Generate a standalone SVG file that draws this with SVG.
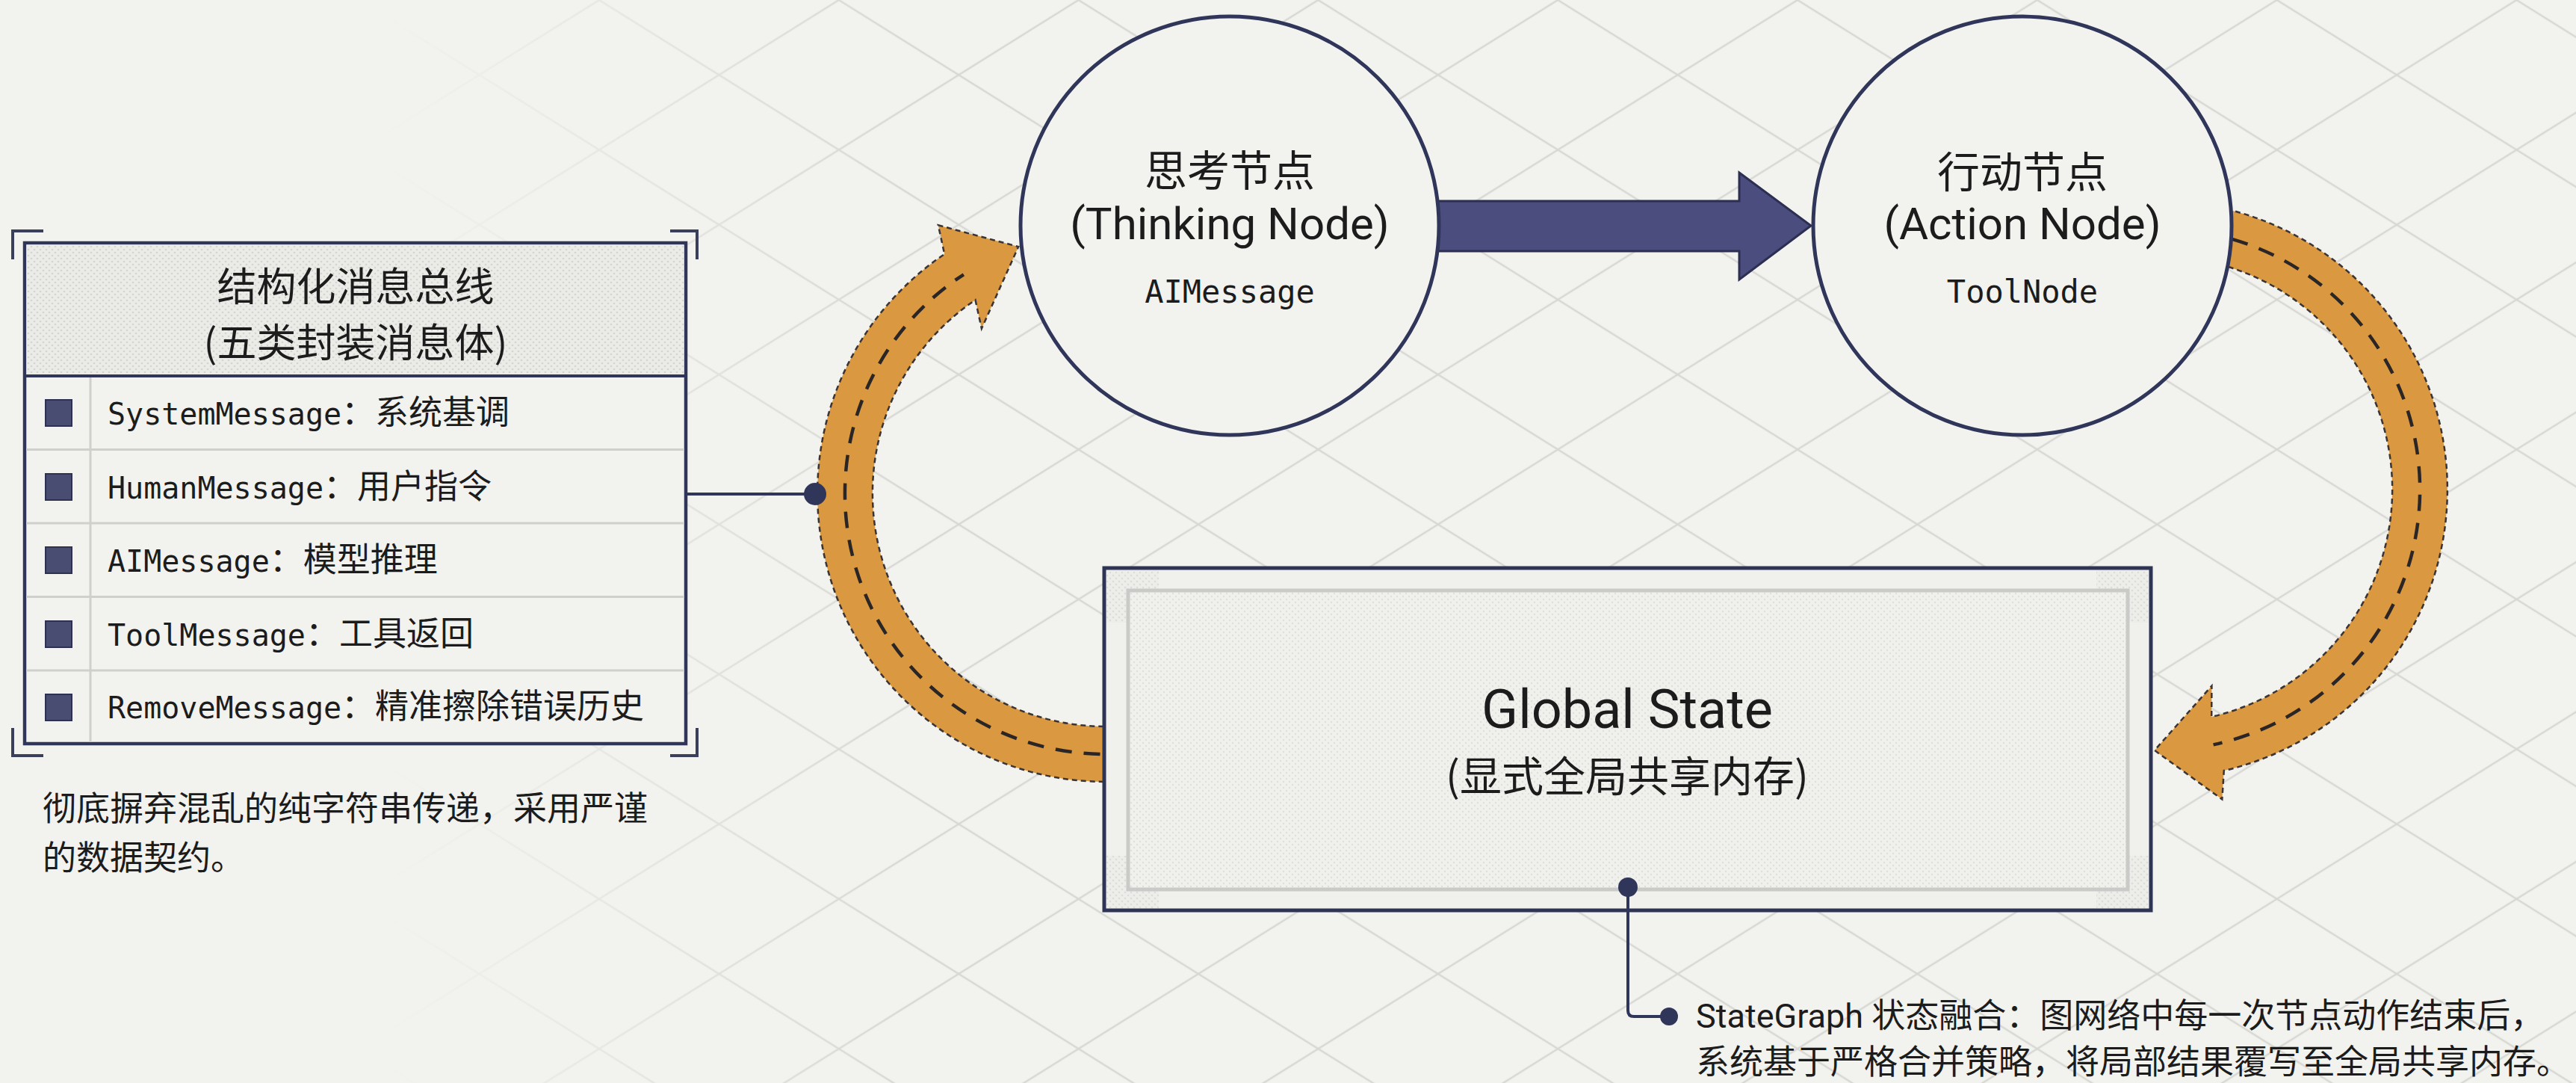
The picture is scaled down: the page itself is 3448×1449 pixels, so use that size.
<svg xmlns="http://www.w3.org/2000/svg" width="3448" height="1449" viewBox="0 0 3448 1449">
<defs>
<style>
.cjk{font-family:"Noto Sans CJK SC",sans-serif;fill:#1c1c1c}
.sans{font-family:Roboto,"Noto Sans CJK SC",sans-serif;fill:#1c1c1c}
.mono{font-family:"DejaVu Sans Mono","Noto Sans CJK SC",monospace;fill:#1c1c1c}
.node{fill:#f2f2ef;stroke:#30355a;stroke-width:5}
.orange{fill:#da9840;stroke:#3a3436;stroke-width:2.5;stroke-dasharray:7 5}
.dash{fill:none;stroke:#2b2626;stroke-width:4.5;stroke-dasharray:22 16}
.rowline{stroke:#cfcfcc;stroke-width:3}
.leader{fill:none;stroke:#30355a;stroke-width:4}
.dot{fill:#30355a}
.bullet{fill:#4a4d72;stroke:#2e3150;stroke-width:2}
.bracket{fill:none;stroke:#3a3f5c;stroke-width:4}
</style>
<pattern id="gridA" width="170" height="170" patternUnits="userSpaceOnUse" patternTransform="rotate(32)"><line x1="0" y1="85" x2="170" y2="85" stroke="#d3d3cf" stroke-width="2.5"/></pattern>
<pattern id="gridB" width="170" height="170" patternUnits="userSpaceOnUse" patternTransform="rotate(-32)"><line x1="0" y1="85" x2="170" y2="85" stroke="#d3d3cf" stroke-width="2.5"/></pattern>
<pattern id="dots" width="8" height="8" patternUnits="userSpaceOnUse"><rect width="8" height="8" fill="#ebebe8"/><circle cx="2" cy="2" r="1.3" fill="#d4d4d1"/><circle cx="6" cy="6" r="1.3" fill="#d4d4d1"/></pattern>
<pattern id="dots2" width="8" height="8" patternUnits="userSpaceOnUse"><rect width="8" height="8" fill="#f0f0ed"/><circle cx="2" cy="2" r="1.2" fill="#dfdfdc"/><circle cx="6" cy="6" r="1.2" fill="#dfdfdc"/></pattern>
<linearGradient id="fade" x1="0" y1="0" x2="1" y2="0"><stop offset="0.15" stop-color="#fff" stop-opacity="0"/><stop offset="0.35" stop-color="#fff" stop-opacity="1"/><stop offset="1" stop-color="#fff" stop-opacity="1"/></linearGradient>
<mask id="gridMask"><rect width="3448" height="1449" fill="url(#fade)"/></mask>
</defs>

<rect width="3448" height="1449" fill="#f2f2ee"/>
<g id="background-grid" mask="url(#gridMask)" opacity="0.85">
<rect width="3448" height="1449" fill="url(#gridA)"/>
<rect width="3448" height="1449" fill="url(#gridB)"/>
</g>

<g id="connectors">
<path class="orange" d="M1513.6,1044.5 A386,386 0 0 1 1264.2,340 L1255.8,301.3 L1363.2,330.1 L1313.9,439.6 L1305.5,401.3 A312,312 0 0 0 1507.2,970.8 Z"/>
<path class="dash" d="M1510.4,1007.7 A349,349 0 0 1 1289.9,367.3"/>
<path class="orange" d="M2957,274.9 A386,386 0 0 1 2976.8,1031.1 L2974.3,1069.5 L2883.9,1003.9 L2960.4,917.7 L2960.2,959 A312,312 0 0 0 2944.2,347.7 Z"/>
<path class="dash" d="M2950.6,311.3 A349,349 0 0 1 2962.6,996.4"/>
<polygon points="1910,269 2328,269 2328,231 2424,302 2328,374 2328,336 1910,336" fill="#4a4d7d" stroke="#2c2f52" stroke-width="3"/>
</g>

<g id="message-bus">
<rect x="33" y="325" width="885" height="670" fill="#f2f2ef" stroke="#30355a" stroke-width="4.5"/>
<rect x="35.5" y="327.5" width="880" height="175" fill="url(#dots)"/>
<line x1="33" y1="503" x2="918" y2="503" stroke="#30355a" stroke-width="4"/>
<line class="rowline" x1="35" y1="601.5" x2="916" y2="601.5"/>
<line class="rowline" x1="35" y1="700" x2="916" y2="700"/>
<line class="rowline" x1="35" y1="798.5" x2="916" y2="798.5"/>
<line class="rowline" x1="35" y1="897" x2="916" y2="897"/>
<line class="rowline" x1="121" y1="505" x2="121" y2="993"/>
<path class="bracket" d="M17,347 V309 H58"/>
<path class="bracket" d="M897,309 H933 V347"/>
<path class="bracket" d="M17,974 V1011 H58"/>
<path class="bracket" d="M897,1011 H933 V974"/>
<text class="cjk" x="476" y="403" font-size="53" text-anchor="middle">结构化消息总线</text>
<text class="cjk" x="476" y="478" font-size="53" text-anchor="middle">(五类封装消息体)</text>
<rect class="bullet" x="61" y="535" width="35" height="35"/>
<rect class="bullet" x="61" y="634" width="35" height="35"/>
<rect class="bullet" x="61" y="732" width="35" height="35"/>
<rect class="bullet" x="61" y="831" width="35" height="35"/>
<rect class="bullet" x="61" y="929" width="35" height="35"/>
<text class="mono" x="144" y="568" font-size="40">SystemMessage<tspan class="cjk" font-size="45">：系统基调</tspan></text>
<text class="mono" x="144" y="667" font-size="40">HumanMessage<tspan class="cjk" font-size="45">：用户指令</tspan></text>
<text class="mono" x="144" y="765" font-size="40">AIMessage<tspan class="cjk" font-size="45">：模型推理</tspan></text>
<text class="mono" x="144" y="864" font-size="40">ToolMessage<tspan class="cjk" font-size="45">：工具返回</tspan></text>
<text class="mono" x="144" y="961" font-size="40">RemoveMessage<tspan class="cjk" font-size="45">：精准擦除错误历史</tspan></text>
</g>

<g id="message-bus-note">
<text class="cjk" x="57" y="1098" font-size="45">彻底摒弃混乱的纯字符串传递，采用严谨</text>
<text class="cjk" x="57" y="1164" font-size="45">的数据契约。</text>
</g>

<g id="thinking-node">
<circle class="node" cx="1646" cy="302" r="280"/>
<text class="cjk" x="1646" y="249" font-size="57" text-anchor="middle">思考节点</text>
<text class="sans" x="1646" y="320" font-size="60" text-anchor="middle">(Thinking Node)</text>
<text class="mono" x="1646" y="405" font-size="42" text-anchor="middle">AIMessage</text>
</g>

<g id="action-node">
<circle class="node" cx="2707" cy="302" r="280"/>
<text class="cjk" x="2707" y="251" font-size="57" text-anchor="middle">行动节点</text>
<text class="sans" x="2707" y="320" font-size="60" text-anchor="middle">(Action Node)</text>
<text class="mono" x="2707" y="405" font-size="42" text-anchor="middle">ToolNode</text>
</g>

<g id="global-state">
<rect x="1478" y="760" width="1401" height="458" fill="#f0f0ed" stroke="#2e3454" stroke-width="5"/>
<rect x="1481" y="763" width="70" height="70" fill="url(#dots)" opacity="0.7"/>
<rect x="2806" y="763" width="70" height="70" fill="url(#dots)" opacity="0.7"/>
<rect x="1481" y="1145" width="70" height="70" fill="url(#dots)" opacity="0.7"/>
<rect x="2806" y="1145" width="70" height="70" fill="url(#dots)" opacity="0.7"/>
<rect x="1510" y="790" width="1338" height="400" fill="url(#dots2)" stroke="#cacac8" stroke-width="5"/>
<text class="sans" x="2178" y="974" font-size="72" text-anchor="middle">Global State</text>
<text class="cjk" x="2178" y="1059" font-size="56" text-anchor="middle">(显式全局共享内存)</text>
</g>

<g id="state-graph-note">
<text class="sans" x="2270" y="1375" font-size="45">StateGraph 状态融合：图网络中每一次节点动作结束后，</text>
<text class="cjk" x="2270" y="1437" font-size="45">系统基于严格合并策略，将局部结果覆写至全局共享内存。</text>
</g>

<g id="leaders">
<line class="leader" x1="918" y1="661" x2="1091" y2="661"/>
<circle class="dot" cx="1091" cy="661" r="15"/>
<path class="leader" d="M2179,1188 V1352 Q2179,1360 2187,1360 H2234"/>
<circle class="dot" cx="2179" cy="1187" r="13"/>
<circle class="dot" cx="2234" cy="1360" r="12"/>
</g>
</svg>
